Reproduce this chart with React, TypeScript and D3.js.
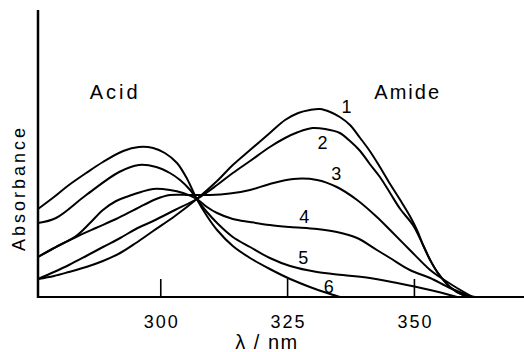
import React, { useEffect, useRef } from 'react'
import * as d3 from 'd3'

// wavelength (nm) / absorbance (arbitrary units)
const xTicks = [300, 325, 350]

const curve1 = [
  [275.8, 0.18], [278.95, 0.21], [281.9, 0.25], [285.3, 0.30], [288.6, 0.36],
  [292.0, 0.44], [295.1, 0.54], [298.5, 0.66], [302.8, 0.81], [307.1, 0.98],
  [311.1, 1.16], [314.2, 1.32], [317.6, 1.47], [321.5, 1.64], [324.5, 1.77],
  [327.1, 1.84], [329.4, 1.87], [331.4, 1.88], [333.4, 1.85], [335.3, 1.80],
  [337.3, 1.72], [339.3, 1.59], [341.2, 1.46], [343.2, 1.30], [345.2, 1.13],
  [347.2, 0.97], [349.1, 0.81], [350.5, 0.67], [351.7, 0.52], [353.1, 0.37],
  [354.5, 0.25], [357.0, 0.10], [359.6, 0.02], [362.1, 0]
]
const curve2 = [
  [275.8, 0.18], [278.95, 0.25], [281.9, 0.32], [285.3, 0.41], [288.6, 0.50],
  [292.0, 0.59], [295.1, 0.68], [298.5, 0.76], [302.8, 0.87], [307.1, 0.98],
  [311.1, 1.12], [314.2, 1.24], [317.6, 1.36], [321.5, 1.50], [324.5, 1.59],
  [327.1, 1.65], [329.9, 1.69], [332.4, 1.68], [335.3, 1.64], [337.3, 1.56],
  [339.3, 1.46], [341.2, 1.33], [343.2, 1.20], [345.2, 1.04], [347.2, 0.88],
  [349.7, 0.72], [351.7, 0.52], [353.1, 0.37], [354.5, 0.25], [357.0, 0.10],
  [359.6, 0.02], [362.1, 0]
]
const curve3 = [
  [275.8, 0.40], [279.35, 0.50], [283.3, 0.60], [287.2, 0.69], [291.2, 0.78],
  [295.1, 0.88], [299.1, 0.98], [301.8, 1.02], [305.8, 1.02], [309.7, 1.02],
  [313.6, 1.035], [317.6, 1.07], [321.5, 1.13], [326.1, 1.18], [330.8, 1.17],
  [334.7, 1.10], [338.7, 0.97], [342.6, 0.80], [345.2, 0.67], [349.1, 0.47],
  [353.1, 0.27], [355.0, 0.20], [358.4, 0.09], [361.5, 0]
]
const curve4 = [
  [275.8, 0.40], [279.35, 0.50], [283.3, 0.61], [286.05, 0.74], [288.6, 0.87],
  [291.2, 0.96], [293.7, 1.01], [296.1, 1.05], [298.5, 1.08], [301.8, 1.07],
  [304.4, 1.04], [307.1, 0.98], [309.1, 0.90], [311.1, 0.84], [314.2, 0.78],
  [317.6, 0.75], [321.5, 0.72], [325.5, 0.70], [330.8, 0.68], [334.7, 0.65],
  [338.7, 0.59], [342.6, 0.47], [345.2, 0.39], [349.1, 0.27], [353.1, 0.19],
  [357.0, 0.09], [361.5, 0]
]
const curve5 = [
  [275.8, 0.74], [279.35, 0.79], [285.3, 1.02], [291.8, 1.25], [295.7, 1.32],
  [299.1, 1.30], [301.8, 1.24], [303.8, 1.17], [305.8, 1.07], [307.1, 0.98],
  [309.1, 0.85], [311.1, 0.74], [314.2, 0.60], [317.6, 0.50], [321.5, 0.39],
  [325.5, 0.31], [330.8, 0.25], [335.9, 0.22], [341.2, 0.19], [346.6, 0.14],
  [353.1, 0.07], [358.4, 0]
]
const curve6 = [
  [275.8, 0.88], [278.95, 1.00], [281.9, 1.12], [285.3, 1.24], [288.6, 1.35],
  [292.6, 1.46], [295.7, 1.50], [298.5, 1.49], [300.8, 1.44], [303.2, 1.34],
  [305.2, 1.18], [307.1, 0.98], [309.1, 0.81], [311.1, 0.67], [314.2, 0.51],
  [317.6, 0.39], [321.5, 0.28], [325.5, 0.18], [329.4, 0.10], [333.4, 0.03],
  [335.3, 0]
]

const curves = [curve1, curve2, curve3, curve4, curve5, curve6]
const curveNames = ['1', '2', '3', '4', '5', '6']
const labelNm = [336.6, 331.9, 334.6, 328.3, 328.1, 333.1]
const labelAbs = [1.84, 1.48, 1.17, 0.74, 0.33, 0.04]

const font = 'Liberation Sans, Arial, sans-serif'

function App() {
  const svgRef = useRef(null)

  useEffect(() => {
    const width = 524
    const left = 38
    const bottom = 297
    const top = 10

    const svg = d3.select(svgRef.current)
    svg.selectAll('*').remove()

    const xScale = d3.scaleLinear().domain([275.8, 371.6]).range([left, width])
    const yScale = d3.scaleLinear().domain([0, 2.87]).range([bottom, top])

    const line = d3.line()
      .x(d => xScale(d[0]))
      .y(d => Math.min(yScale(d[1]), bottom))
      .curve(d3.curveCatmullRom.alpha(0.5))

    // curves
    svg.selectAll('path.curve')
      .data(curves)
      .enter()
      .append('path')
      .attr('class', 'curve')
      .attr('d', d => line(d))
      .attr('fill', 'none')
      .attr('stroke', '#000')
      .attr('stroke-width', 2)

    // x axis with inward ticks
    svg.append('line')
      .attr('x1', left).attr('x2', width)
      .attr('y1', yScale(0)).attr('y2', yScale(0))
      .attr('stroke', '#000').attr('stroke-width', 2.2)

    svg.selectAll('line.tick')
      .data(xTicks)
      .enter()
      .append('line')
      .attr('class', 'tick')
      .attr('x1', d => xScale(d)).attr('x2', d => xScale(d))
      .attr('y1', yScale(0)).attr('y2', yScale(0) - 18)
      .attr('stroke', '#000').attr('stroke-width', 1.6)

    svg.selectAll('text.tickLabel')
      .data(xTicks)
      .enter()
      .append('text')
      .attr('class', 'tickLabel')
      .attr('x', d => xScale(d) + 1)
      .attr('y', 328)
      .attr('text-anchor', 'middle')
      .style('font-family', font)
      .style('font-size', '18px')
      .style('letter-spacing', '2px')
      .text(d => d)

    // y axis
    svg.append('line')
      .attr('x1', left).attr('x2', left)
      .attr('y1', top).attr('y2', yScale(0) + 1)
      .attr('stroke', '#000').attr('stroke-width', 2.5)

    // curve numbers
    svg.selectAll('text.curveName')
      .data(curveNames)
      .enter()
      .append('text')
      .attr('class', 'curveName')
      .attr('x', (d, i) => xScale(labelNm[i]))
      .attr('y', (d, i) => yScale(labelAbs[i]))
      .attr('text-anchor', 'middle')
      .style('font-family', font)
      .style('font-size', '18px')
      .text(d => d)

    svg.append('text')
      .attr('x', xScale(286.0))
      .attr('y', yScale(1.98))
      .style('font-family', font)
      .style('font-size', '20px')
      .style('letter-spacing', '3px')
      .text('Acid')

    svg.append('text')
      .attr('x', xScale(342.1))
      .attr('y', yScale(1.98))
      .style('font-family', font)
      .style('font-size', '20px')
      .style('letter-spacing', '2px')
      .text('Amide')

    // axis titles
    svg.append('text')
      .attr('transform', 'translate(25,188) rotate(-90)')
      .attr('text-anchor', 'middle')
      .style('font-family', font)
      .style('font-size', '18px')
      .style('letter-spacing', '3px')
      .text('Absorbance')

    svg.append('text')
      .attr('x', 267)
      .attr('y', 349)
      .attr('text-anchor', 'middle')
      .style('font-family', font)
      .style('font-size', '20px')
      .style('letter-spacing', '1.5px')
      .text('λ / nm')
  }, [])

  return (
    <svg
      ref={svgRef}
      width={524}
      height={352}
      style={{ position: 'absolute', left: 0, top: 0, background: '#fff' }}
    />
  )
}

export default App
